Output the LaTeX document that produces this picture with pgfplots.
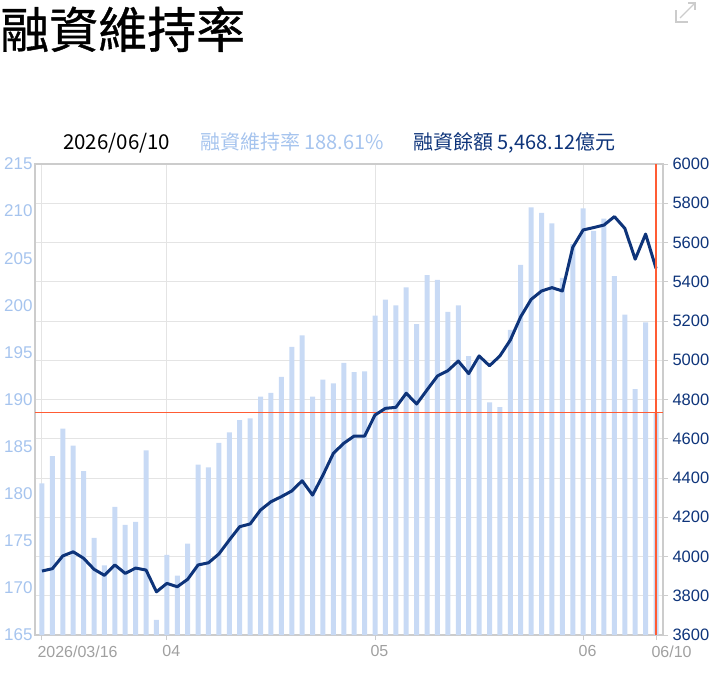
\documentclass[border=0pt]{standalone}
\usepackage{pgfplots}
\usepackage{pgfplotstable}
\pgfplotsset{compat=1.18}
\usepackage{fontspec}
\setmainfont{Liberation Sans}
\newfontfamily\cjk{Noto Sans CJK TC}
\newfontfamily\cjkt[FakeBold=0.8]{Noto Sans CJK TC}
\definecolor{barblue}{RGB}{200,218,245}
\definecolor{navy}{RGB}{14,52,122}
\definecolor{lblue}{RGB}{166,196,238}
\definecolor{gridc}{RGB}{228,228,228}
\definecolor{axc}{RGB}{204,204,204}
\definecolor{xlab}{RGB}{160,160,160}
\definecolor{redl}{RGB}{255,92,52}

\pgfplotstableread{
x bar bal
0 181.1 3926
1 184.0 3938
2 186.9 4003
3 185.1 4024
4 182.4 3991
5 175.3 3935
6 172.4 3904
7 178.6 3957
8 176.7 3914
9 177.0 3941
10 184.6 3931
11 166.6 3820
12 173.5 3863
13 171.3 3846
14 174.7 3884
15 183.1 3957
16 182.8 3968
17 185.4 4013
18 186.5 4084
19 187.8 4152
20 188.0 4166
21 190.3 4237
22 190.7 4279
23 192.4 4305
24 195.6 4334
25 196.8 4386
26 190.3 4313
27 192.1 4415
28 191.7 4526
29 193.9 4577
30 192.9 4614
31 193.0 4614
32 198.9 4721
33 200.6 4755
34 200.0 4760
35 201.9 4832
36 198.0 4777
37 203.2 4849
38 202.7 4920
39 199.3 4947
40 200.0 4996
41 194.6 4932
42 194.6 5022
43 189.7 4972
44 189.2 5022
45 197.4 5103
46 204.3 5222
47 210.4 5310
48 209.8 5353
49 208.7 5370
50 202.9 5353
51 206.5 5576
52 210.3 5664
53 207.9 5676
54 209.2 5689
55 203.1 5732
56 199.0 5672
57 191.1 5515
58 198.2 5643
59 188.61 5468.12
}\datatable

\pgfplotsset{
  common/.style={
    at={(35pt,-635pt)}, anchor=south west,
    scale only axis, width=628pt, height=471pt,
    xmin=-0.67, xmax=59.67,
    /pgf/number format/assume math mode=true,
    /pgf/number format/1000 sep={},
  }
}

\begin{document}
\begin{tikzpicture}
\useasboundingbox (0pt,0pt) rectangle (715pt,-678pt);
% title
\node[anchor=base west, inner sep=0pt, font=\cjkt\fontsize{49}{49}\selectfont] at (0pt,-48pt) {融資維持率};
% expand icon
\draw[axc, line width=1.2pt] (676pt,-10pt) -- (676pt,-22pt) -- (688pt,-22pt);
\draw[axc, line width=1.2pt] (680pt,-18pt) -- (695pt,-3pt);
\draw[axc, line width=1.2pt] (688pt,-3pt) -- (695pt,-3pt) -- (695pt,-10pt);
% legend
\node[anchor=base west, inner sep=0pt, font=\cjk\fontsize{20.5}{20.5}\selectfont] at (63pt,-149pt) {2026/06/10};
\node[anchor=base west, inner sep=0pt, font=\cjk\fontsize{20}{20}\selectfont, text=lblue] at (200pt,-149pt) {融資維持率 188.61\%};
\node[anchor=base west, inner sep=0pt, font=\cjk\fontsize{20}{20}\selectfont, text=navy] at (413pt,-149pt) {融資餘額 5,468.12億元};

% background axis: frame, grids, x labels, right labels
\begin{axis}[common,
  ymin=3600, ymax=6000,
  ytick={3600,3800,...,6000},
  yticklabels={3600,3800,4000,4200,4400,4600,4800,5000,5200,5400,5600,5800,\raisebox{-6pt}{6000}},
  ymajorgrids, xmajorgrids,
  grid style={gridc, line width=1pt},
  axis line style={axc, line width=1.2pt},
  xtick={0,12,32,52,59},
  xticklabels={2026/03/16,04,05,06,06/10},
  x tick label style={anchor=north west, xshift=-8pt, yshift=-2pt, text=xlab, font=\fontsize{16}{16}\selectfont},
  xtick pos=bottom, ytick pos=right,
  yticklabel pos=right,
  y tick label style={text=navy, font=\fontsize{16.5}{16.5}\selectfont, xshift=1pt},
  tick style={axc, line width=1pt},
  tick align=outside,
  major tick length=5pt,
]
\end{axis}

% left axis: bars
\begin{axis}[common,
  ymin=165, ymax=215,
  ytick={165,170,...,215},
  yticklabels={165,170,175,180,185,190,195,200,205,210,\raisebox{-7pt}{215}},
  axis line style={draw=none},
  xtick=\empty,
  ytick pos=left, yticklabel pos=left,
  major tick length=0pt,
  y tick label style={text=lblue, font=\fontsize{17}{17}\selectfont, xshift=1pt},
]
\addplot[ybar, bar width=5pt, fill=barblue, draw=none] table[x=x, y=bar] {\datatable};
\draw[redl, line width=1pt] (axis cs:-0.67,188.61) -- (axis cs:59.67,188.61);
\end{axis}

% right axis: balance line
\begin{axis}[common,
  ymin=3600, ymax=6000,
  hide axis,
]
\addplot[navy, line width=3pt, line join=round, mark=none] table[x=x, y=bal] {\datatable};
\draw[redl, line width=1.2pt] (axis cs:59,3600) -- (axis cs:59,6000);
\end{axis}
\end{tikzpicture}
\end{document}
